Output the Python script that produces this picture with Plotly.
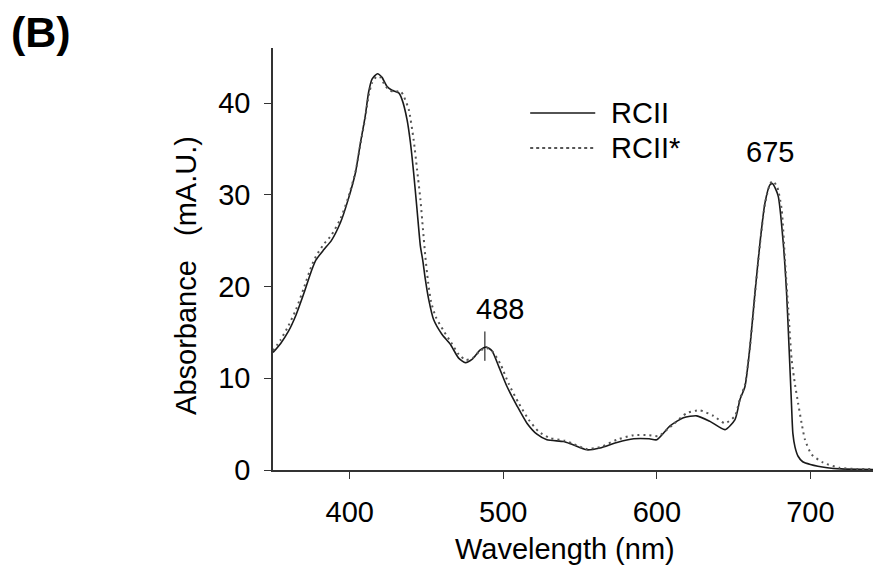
import plotly.graph_objects as go

# RCII (solid) absorbance spectrum
wl_rcii = [350, 355, 360, 365, 370, 375, 378, 383, 388, 394, 399, 403.7, 407, 410, 412.3,
           414.5, 418, 421, 424.3, 427.5, 431.9, 434, 437.3, 439.5, 441.6, 443.8, 446, 447.5,
           449.2, 451.4, 454.6, 460, 465.5, 470.9, 475.3, 479.6, 485, 489, 492.6, 497, 502.4,
           508.9, 515.4, 521.9, 528.4, 539.2, 544.6, 554.4, 563, 574, 585, 595, 600, 608.6,
           617.3, 626, 634.6, 644.4, 650.9, 654.2, 657.4, 660.7, 663.9, 667.2, 670.4, 673.7,
           675.4, 679, 682.3, 684.5, 686.2, 687.5, 688.6, 690, 692, 695, 700, 711, 720, 746]
abs_rcii = [12.8, 13.8, 15.1, 16.9, 19.2, 21.7, 22.9, 24.0, 25.0, 27.0, 29.5, 32.4, 35.7, 38.5, 41.2,
            42.6, 43.2, 42.8, 41.8, 41.4, 41.1, 40.4, 38.2, 35.7, 32.4, 28.4, 24.4, 22.9,
            20.8, 18.6, 16.4, 14.8, 13.7, 12.2, 11.7, 12.05, 13.1, 13.4, 13.0, 11.3, 9.1,
            7.0, 5.1, 3.9, 3.3, 3.1, 2.8, 2.2, 2.4, 3.0, 3.4, 3.4, 3.3, 4.8,
            5.7, 5.9, 5.3, 4.4, 5.5, 7.7, 9.1, 13.5, 19.3, 24.8, 29.1, 31.1,
            31.2, 29.9, 24.8, 19.3, 13.0, 8.0, 4.0, 2.5, 1.5, 0.9, 0.6, 0.25, 0.12, 0.05]

# RCII* (dotted) absorbance spectrum
wl_rcii_star = [350, 355, 360, 365, 370, 375, 378, 383, 388, 394, 399, 403.7, 407, 410, 412.3,
                414.5, 417.5, 420, 423, 426, 429, 433, 435, 438.4, 441.6, 443.8, 446, 447.7,
                449.2, 451, 453, 456, 461, 466, 471, 475.5, 480, 485, 489, 493, 498, 503.5,
                510, 516.5, 523, 530, 540, 545, 554, 563, 574, 585, 595, 601, 610.8,
                619.5, 628, 636.8, 644.4, 650.9, 654.2, 657.4, 660.7, 664, 667.3, 670.5, 673.8,
                675.7, 678.5, 681.3, 683.4, 685.6, 687.8, 690, 692, 694.3, 696.5, 700.8,
                708.4, 719, 730, 746]
abs_rcii_star = [13.0, 14.2, 15.7, 17.5, 19.8, 22.2, 23.3, 24.6, 25.6, 27.4, 29.7, 32.5, 35.6, 38.3, 40.8,
                 42.2, 42.9, 42.8, 41.9, 41.4, 41.2, 41.3, 40.8, 39.3, 36.0, 32.8, 29.5, 26.2,
                 23.3, 20.5, 18.3, 16.7, 15.2, 13.9, 12.6, 12.0, 12.2, 13.0, 13.3, 12.9, 11.6, 9.4,
                 7.3, 5.5, 4.2, 3.5, 3.2, 2.9, 2.3, 2.5, 3.3, 3.8, 3.8, 3.7, 5.0,
                 6.2, 6.5, 5.9, 5.1, 5.9, 7.8, 9.3, 13.5, 19.3, 24.8, 29.1, 31.2,
                 31.5, 30.8, 28.4, 23.0, 17.5, 12.05, 9.3, 7.3, 5.1, 3.3, 1.7,
                 0.8, 0.24, 0.12, 0.1]

x_ticks = [400, 500, 600, 700]
y_ticks = [0, 10, 20, 30, 40]
series_names = ['RCII', 'RCII*']

FONT = 'Arial, Liberation Sans, sans-serif'
FS = 29
SOLID = '#1a1a1a'
DOTTED = '#555555'

fig = go.Figure()
fig.add_trace(go.Scatter(x=wl_rcii, y=abs_rcii, mode='lines', name=series_names[0],
                         line=dict(color=SOLID, width=1.6, shape='spline', smoothing=0.6)))
fig.add_trace(go.Scatter(x=wl_rcii_star, y=abs_rcii_star, mode='lines', name=series_names[1],
                         line=dict(color=DOTTED, width=2, dash='2px,4px', shape='spline', smoothing=0.6)))

# hand-drawn legend, as in the original figure
for yy, dash, col, w, name in [(0.846, 'solid', SOLID, 1.6, series_names[0]),
                               (0.763, 'dot', DOTTED, 2, series_names[1])]:
    fig.add_shape(type='line', xref='paper', yref='paper', x0=0.423, x1=0.530, y0=yy, y1=yy,
                  line=dict(color=col, width=w, dash=dash))
    fig.add_annotation(xref='paper', yref='paper', x=0.553, y=yy, text=name, showarrow=False,
                       xanchor='left', yanchor='middle', font=dict(size=FS, color='black', family=FONT))

# peak markers
fig.add_shape(type='line', x0=488, x1=488, y0=11.9, y1=15.1, line=dict(color='black', width=1))
fig.add_annotation(x=497.6, y=17.6, text='488', showarrow=False, yanchor='middle',
                   font=dict(size=FS, color='black', family=FONT))
fig.add_annotation(x=673.7, y=34.7, text='675', showarrow=False, yanchor='middle',
                   font=dict(size=FS, color='black', family=FONT))

# axis titles placed by hand (the y title sits below the axis centre in the original)
fig.add_annotation(xref='paper', yref='paper', x=-0.143, y=0.46, textangle=-90,
                   text='Absorbance\u00a0\u00a0\u00a0(mA.U.)', showarrow=False,
                   xanchor='center', yanchor='middle', font=dict(size=FS, color='black', family=FONT))
fig.add_annotation(xref='paper', yref='paper', x=0.48, y=-0.188,
                   text='Wavelength (nm)', showarrow=False,
                   xanchor='center', yanchor='middle', font=dict(size=FS, color='black', family=FONT))

# panel label
fig.add_annotation(xref='paper', yref='paper', x=-0.434, y=1.037, text='<b>(B)</b>', showarrow=False,
                   xanchor='left', yanchor='middle', font=dict(size=43, color='black', family=FONT))

# the page body adds an 8px margin, so the figure is 8px smaller than the window
fig.update_layout(
    width=873, height=563,
    margin=dict(l=265, r=0, t=40, b=101),
    plot_bgcolor='white', paper_bgcolor='white',
    showlegend=False,
    font=dict(family=FONT, size=FS, color='black'),
)
fig.update_xaxes(range=[350, 746], tickvals=x_ticks, showgrid=False, zeroline=False,
                 showline=True, linecolor='#333', linewidth=1.5,
                 ticks='outside', ticklen=7, tickcolor='#333', tickwidth=1.2,
                 ticklabelstandoff=8)
fig.update_yaxes(range=[0, 46], tickvals=y_ticks, showgrid=False, zeroline=False,
                 showline=True, linecolor='#333', linewidth=1.5,
                 ticks='outside', ticklen=7, tickcolor='#333', tickwidth=1.2,
                 ticklabelstandoff=8)

fig.write_html("out.html")
